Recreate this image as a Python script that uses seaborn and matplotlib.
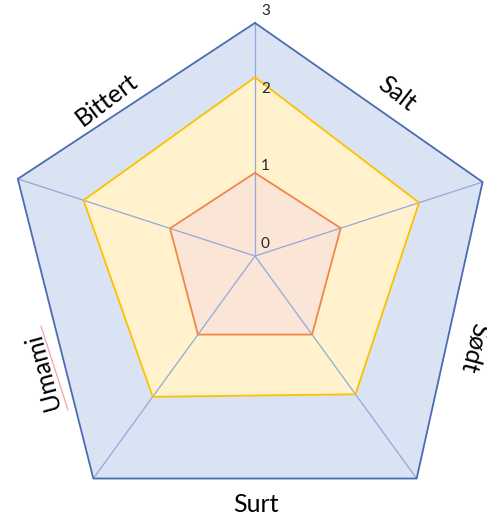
import numpy as np
import pandas as pd
import matplotlib
matplotlib.use("Agg")
import matplotlib.pyplot as plt
from matplotlib.lines import Line2D
import seaborn as sns

# ---------------- data ----------------
# values along the five spokes, counter-clockwise from the top spoke
spoke_values_outer = [3.0, 3.21, 3.54, 3.54, 3.08]
spoke_values_middle = [2.30, 2.32, 2.24, 2.20, 2.22]
spoke_values_inner = [1.07, 1.15, 1.25, 1.25, 1.16]
radial_ticks = [0, 1, 2, 3]
edge_labels = ["Bittert", "Umami", "Surt", "Sødt", "Salt"]  # ccw from top-left edge

# ---------------- style ----------------
sns.set_theme(style="white")
plt.rcParams["font.family"] = ["Lato", "DejaVu Sans"]

W, H = 487, 519
fig = plt.figure(figsize=(W / 100, H / 100), dpi=100)

cx, cy = 255, 256          # centre in pixels (from top-left)
unit = 77.7                # pixels per value unit
rmax = 3.6
rad = rmax * unit
ax = fig.add_axes([(cx - rad) / W, (H - cy - rad) / H, 2 * rad / W, 2 * rad / H],
                  projection="polar")
ax.set_ylim(0, rmax)
ax.set_axis_off()

n = len(spoke_values_outer)
theta = np.pi / 2 + 2 * np.pi * np.arange(n) / n
theta_closed = np.append(theta, theta[0] + 2 * np.pi)

series = [
    ("outer", spoke_values_outer, "#DAE3F3", "#4A6DB2"),
    ("middle", spoke_values_middle, "#FFF2CC", "#FFC000"),
    ("inner", spoke_values_inner, "#FBE5D6", "#F0874A"),
]

for name, vals, fc, ec in series:
    r_closed = np.append(vals, vals[0])
    ax.fill(theta_closed, r_closed, color=fc, zorder=1, lw=0)

# spokes
for k in range(n):
    ax.plot([theta[k], theta[k]], [0, spoke_values_outer[k]],
            color="#8FAADC", lw=0.9, zorder=2, solid_capstyle="butt")

for name, vals, fc, ec in series:
    df = pd.DataFrame({"theta": theta_closed, "r": np.append(vals, vals[0])})
    sns.lineplot(data=df, x="theta", y="r", sort=False, estimator=None,
                 color=ec, lw=1.3, ax=ax, zorder=3)
ax.set_xlabel("")
ax.set_ylabel("")

# radial tick labels along top spoke
for t in radial_ticks:
    ax.annotate(str(t), xy=(np.pi / 2, t), xytext=(7.5, 8.5),
                textcoords="offset points", ha="center", va="center",
                fontsize=11, color="#262626", zorder=5)

# edge labels
def fx(px):
    return px / W

def fy(py):
    return 1 - py / H

label_pos = {
    "Bittert": (107, 100, 37),
    "Salt": (397, 94, -38),
    "Sødt": (474, 348, -105),
    "Surt": (256, 504, 0),
    "Umami": (43, 371, 105),
}
for lab in edge_labels:
    x, y, rot = label_pos[lab]
    fig.text(fx(x), fy(y), lab, ha="center", va="center", rotation=rot,
             rotation_mode="anchor", fontsize=18, color="black")

# spell-check underline under "Umami"
fig.add_artist(Line2D([fx(41), fx(68)], [fy(326), fy(410)],
                      color="#F4A3A3", lw=0.9))

fig.savefig("out.png", dpi=100)
